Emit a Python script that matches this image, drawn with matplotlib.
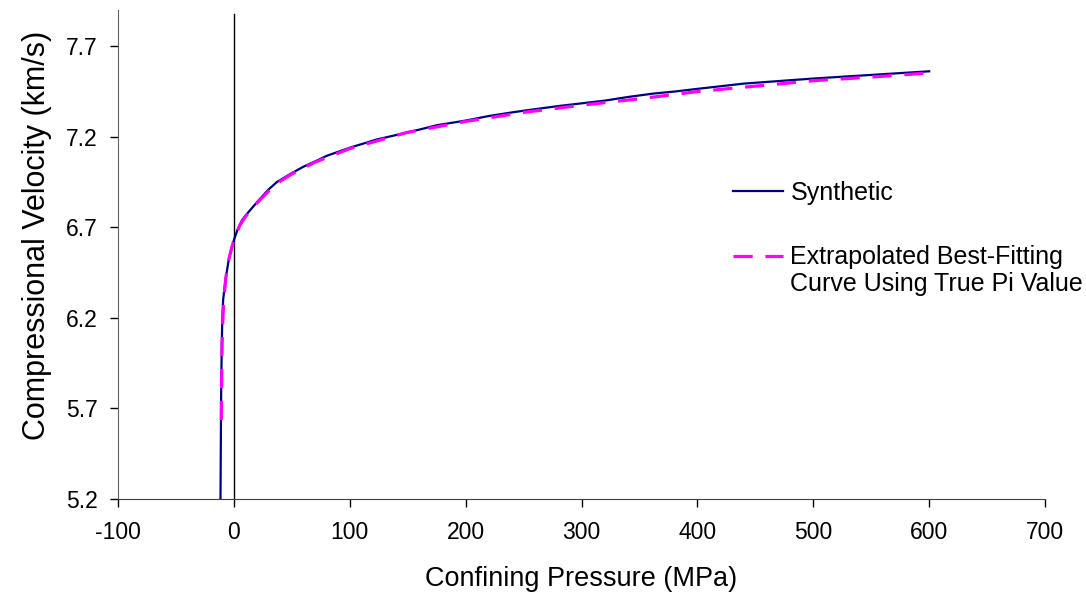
import matplotlib
matplotlib.use('Agg')
import matplotlib.pyplot as plt
from matplotlib.legend_handler import HandlerLine2D

# synthetic velocity-pressure data
syn_p = [-11.6, -11.3, -11.0, -10.5, -10.0, -9.3, -7.3, -4.5, -2, 0, 3, 7, 10, 14, 20, 30, 37,
         50, 60, 72, 80, 100, 123, 140, 160, 175, 200, 220, 240, 253, 280, 300, 320, 340, 362,
         380, 400, 440, 470, 500, 540, 570, 600]
syn_v = [5.20, 5.50, 5.80, 6.05, 6.20, 6.30, 6.41, 6.52, 6.585, 6.63, 6.685, 6.74, 6.765,
         6.795, 6.84, 6.91, 6.95, 7.00, 7.035, 7.07, 7.095, 7.14, 7.185, 7.21, 7.24, 7.264,
         7.29, 7.315, 7.335, 7.347, 7.37, 7.385, 7.40, 7.42, 7.439, 7.45, 7.465, 7.494, 7.508,
         7.522, 7.538, 7.55, 7.562]

# extrapolated best-fitting curve
fit_p = [-10.9, -10.6, -10.2, -9.5, -8.5, -7, -4.5, -2, 0, 5, 10, 20, 30, 40, 50, 70, 100,
         150, 200, 250, 300, 350, 400, 450, 500, 550, 600]
fit_v = [5.636, 5.85, 6.05, 6.20, 6.32, 6.42, 6.52, 6.585, 6.63, 6.71, 6.76, 6.835, 6.90,
         6.955, 6.995, 7.06, 7.135, 7.225, 7.285, 7.335, 7.375, 7.41, 7.45, 7.48, 7.51, 7.53,
         7.553]

x_ticks = [-100, 0, 100, 200, 300, 400, 500, 600, 700]
y_ticks = [5.2, 5.7, 6.2, 6.7, 7.2, 7.7]

plt.rcParams['font.family'] = ['Liberation Sans', 'DejaVu Sans']


class FirstLineHandler(HandlerLine2D):
    # put the legend line beside the first text line instead of the middle
    def __init__(self, shift, **kw):
        super().__init__(**kw)
        self.shift = shift

    def create_artists(self, legend, orig_handle, xdescent, ydescent, width, height, fontsize, trans):
        arts = super().create_artists(legend, orig_handle, xdescent, ydescent, width, height, fontsize, trans)
        for a in arts:
            a.set_ydata([y + self.shift * fontsize for y in a.get_ydata()])
        return arts


fig = plt.figure(figsize=(10.86, 5.94), dpi=100)
ax = fig.add_axes([0.1087, 0.16, 0.8536, 0.823])

l1, = ax.plot(syn_p, syn_v, color='#000080', lw=1.6, label='Synthetic', zorder=3)
l2, = ax.plot(fit_p, fit_v, color='#FF00FF', lw=2.3, dashes=(6, 4),
              label='Extrapolated Best-Fitting\nCurve Using True Pi Value', zorder=4)
ax.axvline(0, ymax=0.992, color='black', lw=1.0, zorder=2)

ax.set_xlim(-100, 700)
ax.set_ylim(5.2, 7.9)
ax.set_xticks(x_ticks)
ax.set_xticklabels([str(t) for t in x_ticks])
ax.set_yticks(y_ticks)
ax.set_yticklabels(['{0:.1f}'.format(t) for t in y_ticks])
ax.tick_params(labelsize=16.5)
ax.tick_params(axis='x', direction='out', length=6, width=1, pad=10)
ax.tick_params(axis='y', direction='out', length=6, width=1, pad=8.5)

for s in ['top', 'right']:
    ax.spines[s].set_visible(False)
ax.spines['left'].set_color('#606060')
ax.spines['bottom'].set_color('#404040')

ax.set_xlabel('Confining Pressure (MPa)', fontsize=19.5, labelpad=16)
ax.set_ylabel('Compressional Velocity (km/s)', fontsize=22, labelpad=10, y=0.54)

leg = ax.legend(handles=[l1, l2], frameon=False, fontsize=18, handlelength=2.0, handletextpad=0.3,
                labelspacing=1.6, loc='upper left', bbox_to_anchor=(0.639, 0.697),
                handler_map={l2: FirstLineHandler(0.6)})
for t in leg.get_texts():
    t.set_linespacing(1.15)

fig.savefig('out.png', dpi=100)
